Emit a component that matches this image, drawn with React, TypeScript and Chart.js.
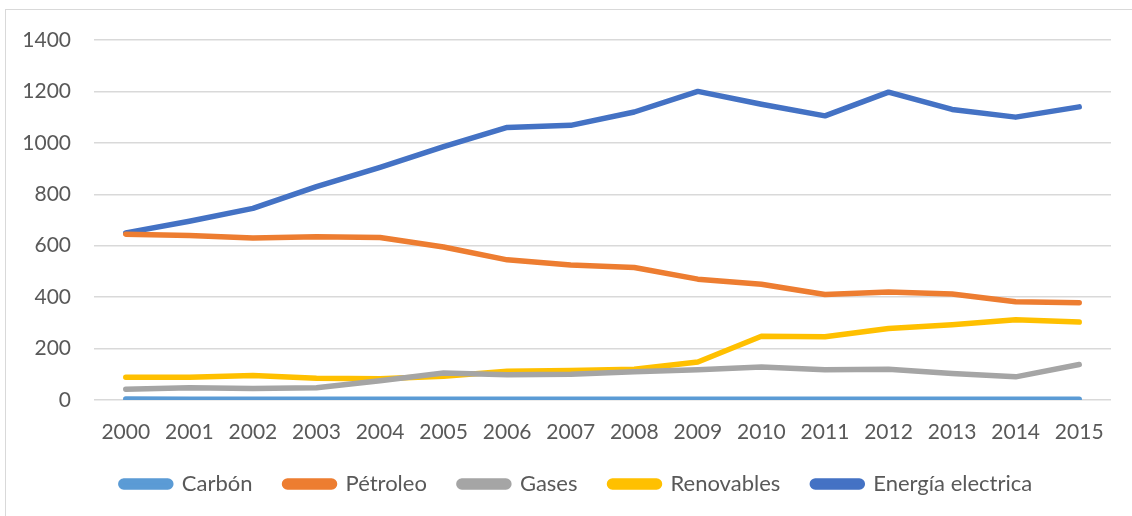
import React, { useEffect, useRef } from "react";
import { Chart, registerables } from "chart.js";

Chart.register(...registerables);

const years = ["2000","2001","2002","2003","2004","2005","2006","2007","2008","2009","2010","2011","2012","2013","2014","2015"];
const carbon = [4, 3, 3, 3, 3, 3, 3, 3, 3, 3, 3, 3, 3, 3, 3, 3];
const petroleo = [645, 640, 630, 635, 632, 595, 545, 525, 515, 470, 450, 410, 420, 412, 382, 378];
const gases = [42, 48, 45, 48, 75, 105, 98, 100, 110, 118, 128, 118, 120, 103, 90, 138];
const renovables = [88, 88, 95, 85, 83, 92, 112, 115, 120, 148, 248, 246, 278, 293, 312, 303];
const energia = [650, 695, 745, 830, 905, 985, 1060, 1068, 1120, 1200, 1150, 1105, 1197, 1130, 1100, 1140];

const FONT = "Lato";
const TEXT = "#595959";

const legendShift = {
  id: "legendShift",
  afterLayout(chart: any) {
    if (chart.legend) {
      chart.legend.left += 21;
      chart.legend.right += 21;
    }
  },
};

export default function App() {
  const ref = useRef<HTMLCanvasElement>(null);
  useEffect(() => {
    document.body.style.margin = "0";
    const mk = (label: string, data: number[], color: string) => ({
      label,
      data,
      borderColor: color,
      backgroundColor: color,
      borderWidth: 5.5,
      pointRadius: 0,
      borderCapStyle: "round" as const,
      borderJoinStyle: "round" as const,
      tension: 0,
    });
    const chart = new Chart(ref.current!, {
      type: "line",
      data: {
        labels: years,
        datasets: [
          mk("Carbón", carbon, "#5B9BD5"),
          mk("Pétroleo", petroleo, "#ED7D31"),
          mk("Gases", gases, "#A5A5A5"),
          mk("Renovables", renovables, "#FFC000"),
          mk("Energía electrica", energia, "#4472C4"),
        ],
      },
      plugins: [legendShift],
      options: {
        animation: false,
        responsive: false,
        layout: { padding: { left: 0, right: 21, top: 40, bottom: 11 } },
        plugins: {
          tooltip: { enabled: false },
          legend: {
            position: "bottom",
            labels: {
              color: TEXT,
              font: { family: FONT, size: 22 },
              boxWidth: 50,
              boxHeight: 6,
              padding: 32,
              useBorderRadius: true,
              borderRadius: 3,
            },
          },
        },
        scales: {
          x: {
            offset: true,
            afterFit: (s: any) => { s.height = 41; },
            grid: { display: false, drawTicks: false },
            border: { display: false },
            ticks: { color: TEXT, font: { family: FONT, size: 21 }, padding: 20, maxRotation: 0 },
          },
          y: {
            min: 0,
            max: 1400,
            afterFit: (s: any) => { s.width = 94; },
            grid: { color: "#D9D9D9", lineWidth: 1.5, drawTicks: false },
            border: { display: false },
            ticks: {
              stepSize: 200,
              color: TEXT,
              font: { family: FONT, size: 21 },
              padding: 23,
              callback: (v: any) => String(v),
            },
          },
        },
      },
    });
    return () => chart.destroy();
  }, []);
  return (
    <div style={{ position: "relative", width: 1132, height: 516, overflow: "hidden", background: "#fff" }}>
      <div style={{ position: "absolute", left: 5, top: 9, width: 1300, height: 700, border: "1.5px solid #D9D9D9" }} />
      <canvas ref={ref} width={1132} height={516} style={{ position: "absolute", left: 0, top: 0 }} />
    </div>
  );
}
